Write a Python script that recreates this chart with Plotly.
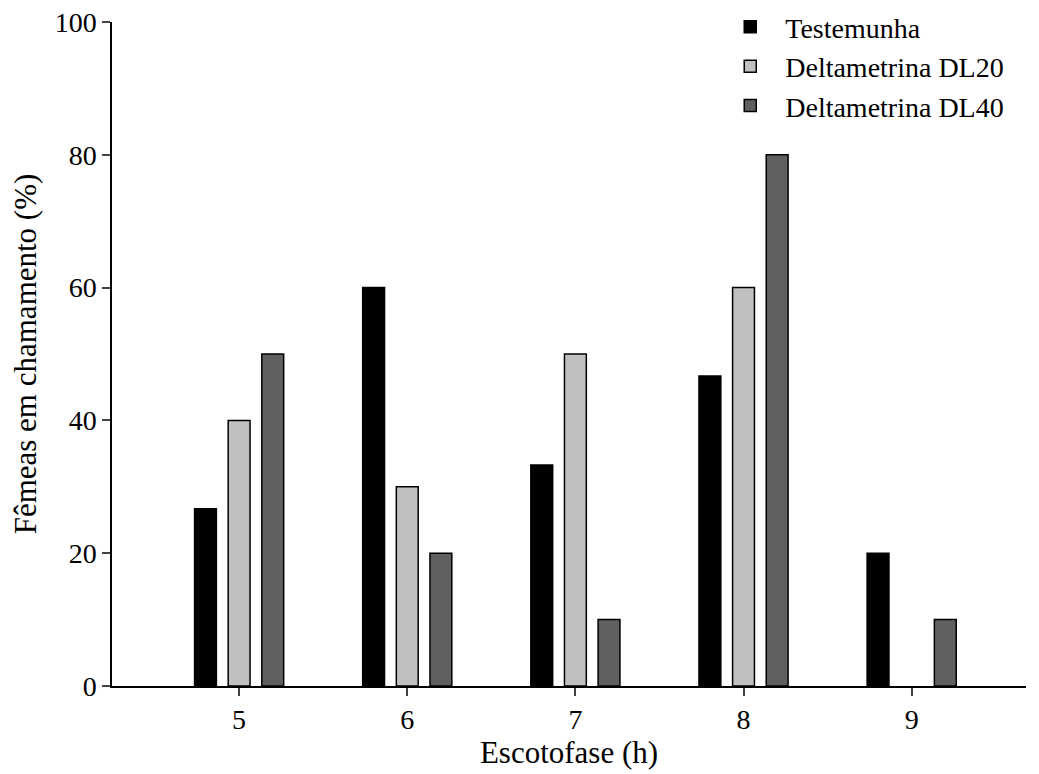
import plotly.graph_objects as go

horas = [5, 6, 7, 8, 9]
testemunha = [26.7, 60, 33.3, 46.7, 20]
dl20 = [40, 30, 50, 60, None]  # sem barra às 9 h
dl40 = [50, 20, 10, 80, 10]

fig = go.Figure()
series = [
    ("Testemunha", testemunha, "black", -0.2),
    ("Deltametrina DL20", dl20, "#c0c0c0", 0.0),
    ("Deltametrina DL40", dl40, "#606060", 0.2),
]
for nome, vals, cor, off in series:
    fig.add_trace(go.Bar(
        x=horas, y=vals, name=nome,
        width=0.13, offset=off - 0.065,
        marker=dict(color=cor, line=dict(color="black", width=1.5)),
    ))

fig.update_layout(
    width=1039, height=774,
    margin=dict(l=104, r=21, t=14, b=96, autoexpand=False),
    plot_bgcolor="white", paper_bgcolor="white",
    font=dict(family="Liberation Serif", size=26, color="black"),
    barmode="overlay",
    showlegend=True,
    legend=dict(x=0.66, y=1.03, xanchor="left", yanchor="top",
                font=dict(size=28), itemwidth=60, tracegroupgap=0),
    xaxis=dict(range=[4.244, 9.68], tickvals=horas, ticks="outside",
               ticklen=8, tickwidth=1.5, showline=True, linewidth=1.5,
               linecolor="black", showgrid=False, zeroline=False,
               tickfont=dict(size=28), automargin=False,
               title=dict(text="Escotofase (h)", standoff=0)),
    yaxis=dict(range=[0, 100], tickvals=[0, 20, 40, 60, 80, 100],
               ticks="outside", ticklen=8, tickwidth=1.5, showline=True,
               linewidth=1.5, linecolor="black", showgrid=False,
               zeroline=False, tickfont=dict(size=28), automargin=False,
               ticklabeloverflow="allow",
               title=dict(text="Fêmeas em chamamento (%)", standoff=10)),
)

fig.write_html("out.html")
